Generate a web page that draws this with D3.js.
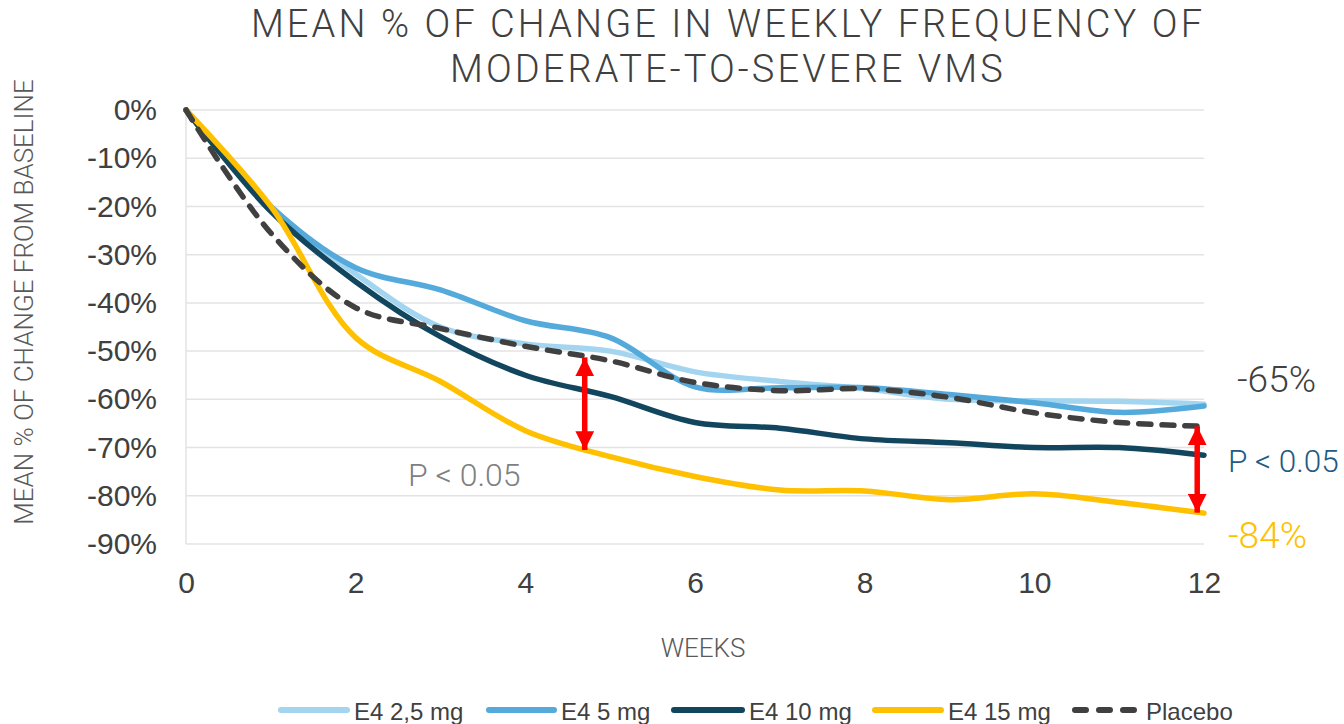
<!DOCTYPE html>
<html>
<head>
<meta charset="utf-8">
<script src="https://cdn.jsdelivr.net/npm/d3@7"></script>
<style>
  body { margin: 0; background: #fff; }
  svg { display: block; }
  .tick text { font-family: "Liberation Sans", Arial, sans-serif; fill: #404040; }
</style>
</head>
<body>
<div class="container"></div>
<script>
// data (mean % change, weeks 0..12)
const weeks = [0, 1, 2, 3, 4, 5, 6, 7, 8, 9, 10, 11, 12];
const e4_25 = [0, -20, -34, -45, -48.5, -50, -54.3, -56.3, -57.8, -60, -60.3, -60.4, -61];
const e4_5 = [0, -20, -32.7, -37.3, -43.7, -47.2, -57.4, -57.6, -57.6, -59, -60.7, -62.7, -61.4];
const e4_10 = [0, -21, -35.6, -47, -55, -59.4, -64.8, -66, -68.2, -69, -70, -70, -71.6];
const e4_15 = [0, -20, -47.2, -56.3, -66.5, -71.9, -76, -78.8, -79, -80.8, -79.6, -81.4, -83.6];
const placebo = [0, -25.5, -41, -45.3, -49, -52, -56.5, -58.2, -57.8, -59.6, -62.8, -64.8, -65.6];

const seriesNames = ["E4 2,5 mg", "E4 5 mg", "E4 10 mg", "E4 15 mg", "Placebo"];
const seriesValues = [e4_25, e4_5, e4_10, e4_15, placebo];
const seriesColors = ["#A3D5F0", "#55AADC", "#12465F", "#FFC000", "#404040"];

const yTicks = [0, -10, -20, -30, -40, -50, -60, -70, -80, -90];
const xTicks = [0, 2, 4, 6, 8, 10, 12];

// red arrows: [week, from, to]
const arrows = [[4.7, -51.3, -70.5], [11.92, -65.6, -83.5]];

const W = 1344, H = 724;
const margin = { top: 110, right: 140, bottom: 180, left: 186 };
const width = 1204 - margin.left;
const hight = 544 - margin.top;

const svg = d3.select('.container').append('svg')
    .attr('width', W)
    .attr('height', H);

// title
const title = svg.append('text')
    .attr('text-anchor', 'middle')
    .style('font-family', 'Roboto, sans-serif')
    .style('font-weight', 300)
    .style('font-size', '38px')
    .style('letter-spacing', '3.1px')
    .attr('fill', '#404040');
title.append('tspan').attr('x', 728).attr('y', 37).text('MEAN % OF CHANGE IN WEEKLY FREQUENCY OF');
title.append('tspan').attr('x', 728).attr('y', 82).text('MODERATE-TO-SEVERE VMS');

const g = svg.append('g')
    .attr('transform', `translate(${margin.left}, ${margin.top})`);

const xScale = d3.scaleLinear().domain([0, 12]).range([0, width]);
const yScale = d3.scaleLinear().domain([0, -90]).range([0, hight]);

// gridlines
g.append('g')
    .selectAll('line')
    .data(yTicks)
    .join('line')
    .attr('x1', 0)
    .attr('x2', width)
    .attr('y1', d => yScale(d))
    .attr('y2', d => yScale(d))
    .attr('stroke', '#E3E3E3')
    .attr('stroke-width', 1.5);

g.append('line')
    .attr('x1', 0).attr('x2', 0)
    .attr('y1', 0).attr('y2', hight)
    .attr('stroke', '#E3E3E3')
    .attr('stroke-width', 1.5);

// axes
const yAxis = d3.axisLeft(yScale)
    .tickValues(yTicks)
    .tickSize(0)
    .tickPadding(29)
    .tickFormat(d => d + '%');
g.append('g')
    .call(yAxis)
    .call(a => a.select('.domain').remove())
    .selectAll('text')
    .style('font-size', '30px');

const xAxis = d3.axisBottom(xScale)
    .tickValues(xTicks)
    .tickSize(0)
    .tickPadding(28);
g.append('g')
    .attr('transform', `translate(0, ${hight})`)
    .call(xAxis)
    .call(a => a.select('.domain').remove())
    .selectAll('text')
    .style('font-size', '30px');

// axis titles
svg.append('text')
    .attr('transform', 'translate(33, 302) rotate(-90)')
    .attr('text-anchor', 'middle')
    .style('font-family', 'Roboto, sans-serif')
    .style('font-weight', 300)
    .style('font-size', '26px')
    .attr('fill', '#595959')
    .text('MEAN % OF CHANGE FROM BASELINE');

svg.append('text')
    .attr('x', 703)
    .attr('y', 657)
    .attr('text-anchor', 'middle')
    .style('font-family', 'Roboto, sans-serif')
    .style('font-weight', 300)
    .style('font-size', '26px')
    .attr('fill', '#595959')
    .text('WEEKS');

// lines
const line = d3.line()
    .x((d, i) => xScale(weeks[i]))
    .y(d => yScale(d))
    .curve(d3.curveCatmullRom.alpha(0.5));

seriesValues.forEach((vals, i) => {
    const isPlacebo = i === 4;
    g.append('path')
        .datum(vals)
        .attr('d', line)
        .attr('fill', 'none')
        .attr('stroke', seriesColors[i])
        .attr('stroke-width', 5.5)
        .attr('stroke-linecap', 'round')
        .attr('stroke-dasharray', isPlacebo ? '12 11' : null);
});

// arrows
const defs = svg.append('defs');
defs.append('marker')
    .attr('id', 'arrowhead')
    .attr('viewBox', '0 0 10 10')
    .attr('refX', 10)
    .attr('refY', 5)
    .attr('markerWidth', 3.4)
    .attr('markerHeight', 3.5)
    .attr('markerUnits', 'strokeWidth')
    .attr('orient', 'auto-start-reverse')
    .append('path')
    .attr('d', 'M0,0 L10,5 L0,10 Z')
    .attr('fill', '#FF0000');

g.append('g')
    .selectAll('line')
    .data(arrows)
    .join('line')
    .attr('x1', d => xScale(d[0]))
    .attr('x2', d => xScale(d[0]))
    .attr('y1', d => yScale(d[1]))
    .attr('y2', d => yScale(d[2]))
    .attr('stroke', '#FF0000')
    .attr('stroke-width', 5.5)
    .attr('marker-start', 'url(#arrowhead)')
    .attr('marker-end', 'url(#arrowhead)');

// annotations
const note = (x, y, txt, color, size) => svg.append('text')
    .attr('x', x)
    .attr('y', y)
    .style('font-family', 'Roboto, sans-serif')
    .style('font-weight', 300)
    .style('font-size', size + 'px')
    .attr('fill', color)
    .text(txt);

note(408, 486, 'P < 0.05', '#7F7F7F', 32);
note(1237, 392, '-65%', '#404040', 37);
note(1228, 472, 'P < 0.05', '#215A82', 31.5);
note(1228, 548, '-84%', '#FFC000', 37);

// legend
const legendX = [278, 486, 671, 872, 1072];
const legendLineW = [72, 71, 74, 72, 70];
const legend = svg.append('g');
seriesNames.forEach((name, i) => {
    const item = legend.append('g')
        .attr('transform', `translate(${legendX[i]}, 710)`);
    const isPlacebo = i === 4;
    item.append('line')
        .attr('x1', 3).attr('x2', legendLineW[i] - 3)
        .attr('y1', 0).attr('y2', 0)
        .attr('stroke', seriesColors[i])
        .attr('stroke-width', 6)
        .attr('stroke-linecap', 'round')
        .attr('stroke-dasharray', isPlacebo ? '11 13' : null);
    item.append('text')
        .attr('x', legendLineW[i] + 4)
        .attr('y', 9.5)
        .style('font-family', '"Liberation Sans", Arial, sans-serif')
        .style('font-size', '24px')
        .attr('fill', '#404040')
        .text(name);
});
</script>
</body>
</html>
